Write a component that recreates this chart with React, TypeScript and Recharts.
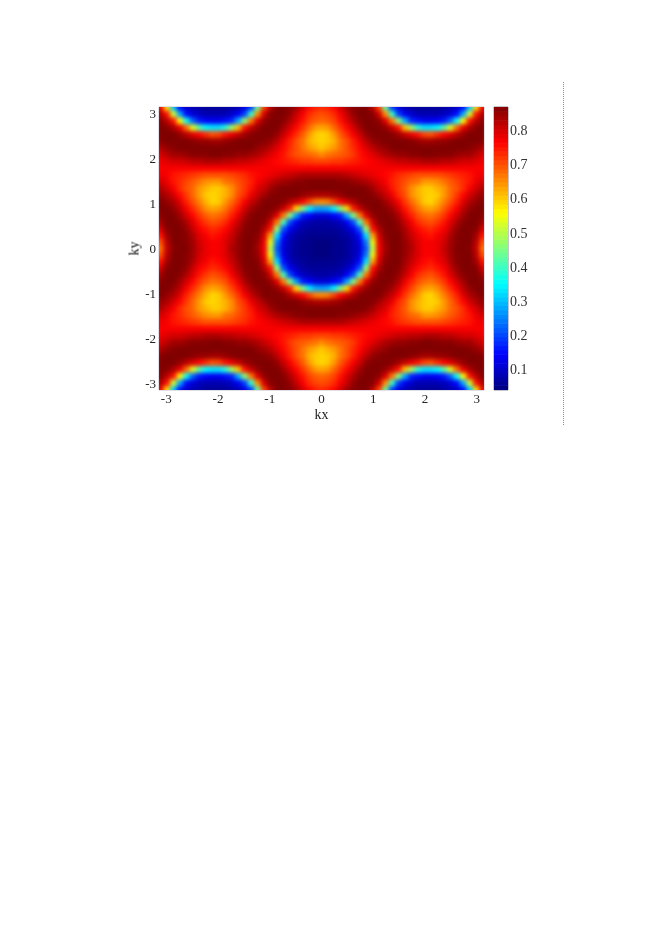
import React from "react";
import { ScatterChart, Scatter, XAxis, YAxis, ReferenceArea, ReferenceLine } from "recharts";

// Quadrant of the map (kx >= 0, ky >= 0), values x100; the picture is mirror-symmetric on both axes.
const kxValues = [0, 0.125, 0.25, 0.375, 0.5, 0.625, 0.75, 0.875, 1, 1.125, 1.25, 1.375, 1.5, 1.625, 1.75, 1.875, 2, 2.125, 2.25, 2.375, 2.5, 2.625, 2.75, 2.875, 3, 3.125];
const kyValues = [0, 0.15, 0.3, 0.45, 0.6, 0.75, 0.9, 1.05, 1.2, 1.35, 1.5, 1.65, 1.8, 1.95, 2.1, 2.25, 2.4, 2.55, 2.7, 2.85, 3, 3.15];
const row00 = [4,4,5,5,6,8,11,21,50,77,84,87,87,85,83,79,77,77,78,81,84,87,87,86,81,67];
const row01 = [4,4,5,5,6,8,12,24,54,78,85,87,87,85,82,79,77,77,78,80,84,86,87,87,82,70];
const row02 = [5,5,5,6,7,9,15,32,63,80,86,87,87,84,81,78,76,75,77,79,83,86,87,87,84,75];
const row03 = [6,6,6,7,9,13,21,47,75,83,87,87,86,83,79,76,74,73,75,77,81,85,87,87,86,80];
const row04 = [7,7,8,9,13,20,41,67,80,86,87,87,85,81,77,73,71,70,72,75,79,83,86,87,87,84];
const row05 = [11,11,14,16,27,45,67,79,85,87,87,86,83,78,74,70,68,67,69,72,76,80,84,87,87,86];
const row06 = [27,28,34,45,59,74,81,85,87,87,86,84,80,75,71,67,64,63,65,69,73,77,82,85,87,87];
const row07 = [65,66,71,76,80,83,86,87,87,87,84,81,77,72,68,64,60,59,62,66,70,74,79,83,85,87];
const row08 = [83,83,84,85,87,87,87,87,86,84,81,78,73,70,65,62,60,59,60,64,68,72,76,80,83,85];
const row09 = [87,87,87,87,87,87,87,86,84,81,79,75,72,69,65,62,60,60,62,64,68,70,73,77,80,83];
const row10 = [87,87,87,86,86,85,84,83,81,79,77,74,72,70,68,67,64,64,65,67,69,71,73,75,78,80];
const row11 = [83,83,83,83,82,81,80,79,78,77,76,75,73,72,71,70,70,70,70,71,72,73,74,75,77,78];
const row12 = [77,77,77,77,77,77,77,77,77,77,77,77,77,77,77,77,77,77,77,77,77,77,77,77,77,77];
const row13 = [71,71,72,72,73,74,75,76,77,78,79,80,81,81,82,82,83,83,83,82,82,81,80,80,79,78];
const row14 = [65,67,68,69,70,72,75,77,79,81,83,84,85,85,86,86,87,87,86,86,86,85,84,84,82,80];
const row15 = [60,62,64,67,70,73,76,79,82,84,85,87,87,87,87,87,87,87,87,87,87,87,87,86,85,83];
const row16 = [59,60,62,67,70,74,78,82,85,86,87,87,87,87,86,85,84,84,85,85,86,87,87,87,87,86];
const row17 = [59,60,64,69,73,77,81,85,87,87,87,86,84,81,78,75,71,70,73,76,79,82,85,87,87,87];
const row18 = [63,64,68,72,76,80,84,87,87,87,85,81,75,61,48,38,33,33,35,42,53,68,78,83,86,87];
const row19 = [68,69,71,75,79,83,86,87,87,85,79,67,46,28,17,15,13,13,14,16,22,36,56,75,82,86];
const row20 = [70,71,73,77,81,85,87,87,86,80,65,39,19,13,10,8,8,8,8,9,11,15,28,52,75,83];
const row21 = [73,74,76,80,84,86,87,87,82,71,43,19,12,8,7,6,6,6,6,7,8,10,15,31,58,78];
const zRows = [row00,row01,row02,row03,row04,row05,row06,row07,row08,row09,row10,row11,row12,row13,row14,row15,row16,row17,row18,row19,row20,row21];

const axisTicks = [-3, -2, -1, 0, 1, 2, 3];
const barTicks = [0.1, 0.2, 0.3, 0.4, 0.5, 0.6, 0.7, 0.8];
const barLevels = [.045,.058,.071,.084,.097,.110,.123,.136,.149,.162,.175,.188,.201,.214,.227,.240,.253,.266,.279,.292,.304,.317,.330,.343,.356,.369,.382,.395,.408,.421,.434,.447,.460,.473,.486,.498,.511,.524,.537,.550,.563,.576,.589,.602,.615,.628,.641,.654,.667,.680,.692,.705,.718,.731,.744,.757,.770,.783,.796,.809,.822,.835,.848,.861];

const Z_MIN = 0.0386;
const Z_MAX = 0.868;
const FONT = "'Liberation Serif', serif";

const clamp = (v: number) => Math.max(0, Math.min(1, v));
function jet(z: number) {
  const t = clamp((z - Z_MIN) / (Z_MAX - Z_MIN));
  const r = clamp(Math.min(4 * t - 1.5, -4 * t + 4.5));
  const g = clamp(Math.min(4 * t - 0.5, -4 * t + 3.5));
  const b = clamp(Math.min(4 * t + 0.5, -4 * t + 2.5));
  return `rgb(${Math.round(r * 255)},${Math.round(g * 255)},${Math.round(b * 255)})`;
}

const cells: { kx: number; ky: number; z: number }[] = [];
zRows.forEach((row, j) => {
  row.forEach((v, i) => {
    const xs = kxValues[i] === 0 ? [0] : [kxValues[i], -kxValues[i]];
    const ys = kyValues[j] === 0 ? [0] : [kyValues[j], -kyValues[j]];
    xs.forEach((kx) => ys.forEach((ky) => cells.push({ kx, ky, z: v / 100 })));
  });
});
const barCells = barLevels.map((level) => ({ pos: 0.5, level }));

const HeatCell = (p: any) => (
  <rect x={p.cx - 3.9} y={p.cy - 4.1} width={7.8} height={8.2} fill={jet(p.payload.z)} />
);
const BarCell = (p: any) => (
  <rect x={p.cx - 7} y={p.cy - 2.5} width={14} height={5} fill={jet(p.payload.level)} />
);

const tickStyle = { fontFamily: FONT, fontSize: 13, fill: "#222" };

export default function App() {
  return (
    <div style={{ position: "absolute", left: 0, top: 0, width: 664, height: 940, background: "#fff", overflow: "hidden" }}>
      <style>{`.heat .recharts-scatter{filter:blur(2px)} svg text{filter:blur(.3px)} svg text.recharts-label{filter:blur(.1px)}`}</style>
      <div className="heat" style={{ position: "absolute", left: 0, top: 0 }}>
        <ScatterChart width={664} height={460} margin={{ left: 129, right: 180, top: 107, bottom: 40 }}>
          <XAxis
            type="number"
            dataKey="kx"
            domain={[-3.14, 3.14]}
            ticks={axisTicks}
            allowDataOverflow
            height={30}
            interval={0}
            axisLine={false}
            tickLine={false}
            tickSize={0}
            tickMargin={4}
            tick={tickStyle}
            label={{ value: "kx", position: "insideBottom", offset: 1, style: { ...tickStyle, fontSize: 14 } }}
          />
          <YAxis
            type="number"
            dataKey="ky"
            domain={[-3.14, 3.14]}
            ticks={axisTicks}
            allowDataOverflow
            width={30}
            interval={0}
            axisLine={false}
            tickLine={false}
            tickSize={0}
            tickMargin={3}
            tick={tickStyle}
            label={{ value: "ky", angle: -90, position: "insideLeft", offset: 5, style: { ...tickStyle, fontSize: 14, fill: "#111", textAnchor: "middle" } }}
          />
          <Scatter data={cells} isAnimationActive={false} shape={HeatCell} />
          <ReferenceArea x1={-3.14} x2={3.14} y1={-3.14} y2={3.14} fill="none" stroke="#c4c0cc" strokeWidth={1} />
        </ScatterChart>
      </div>
      <div style={{ position: "absolute", left: 490, top: 100 }}>
        <ScatterChart width={58} height={300} margin={{ left: 4, right: 0, top: 7, bottom: 10 }}>
          <XAxis type="number" dataKey="pos" domain={[0, 1]} hide />
          <YAxis
            type="number"
            dataKey="level"
            orientation="right"
            domain={[Z_MIN, Z_MAX]}
            ticks={barTicks}
            allowDataOverflow
            width={40}
            interval={0}
            axisLine={false}
            tickLine={false}
            tickSize={0}
            tickMargin={2}
            tick={{ ...tickStyle, fontSize: 14, fill: "#333" }}
            tickFormatter={(v: number) => v.toFixed(1)}
          />
          <Scatter data={barCells} isAnimationActive={false} shape={BarCell} />
          {barTicks.map((t) => (
            <ReferenceLine key={t} segment={[{ x: 0, y: t }, { x: 0.14, y: t }]} stroke="#333" strokeOpacity={0.5} strokeWidth={1} />
          ))}
          <ReferenceArea x1={0} x2={1} y1={Z_MIN} y2={Z_MAX} fill="none" stroke="#8a8a96" strokeWidth={1} />
        </ScatterChart>
      </div>
      <div style={{ position: "absolute", left: 563, top: 82, height: 343, borderLeft: "1px dotted #8c8c8c" }} />
    </div>
  );
}
